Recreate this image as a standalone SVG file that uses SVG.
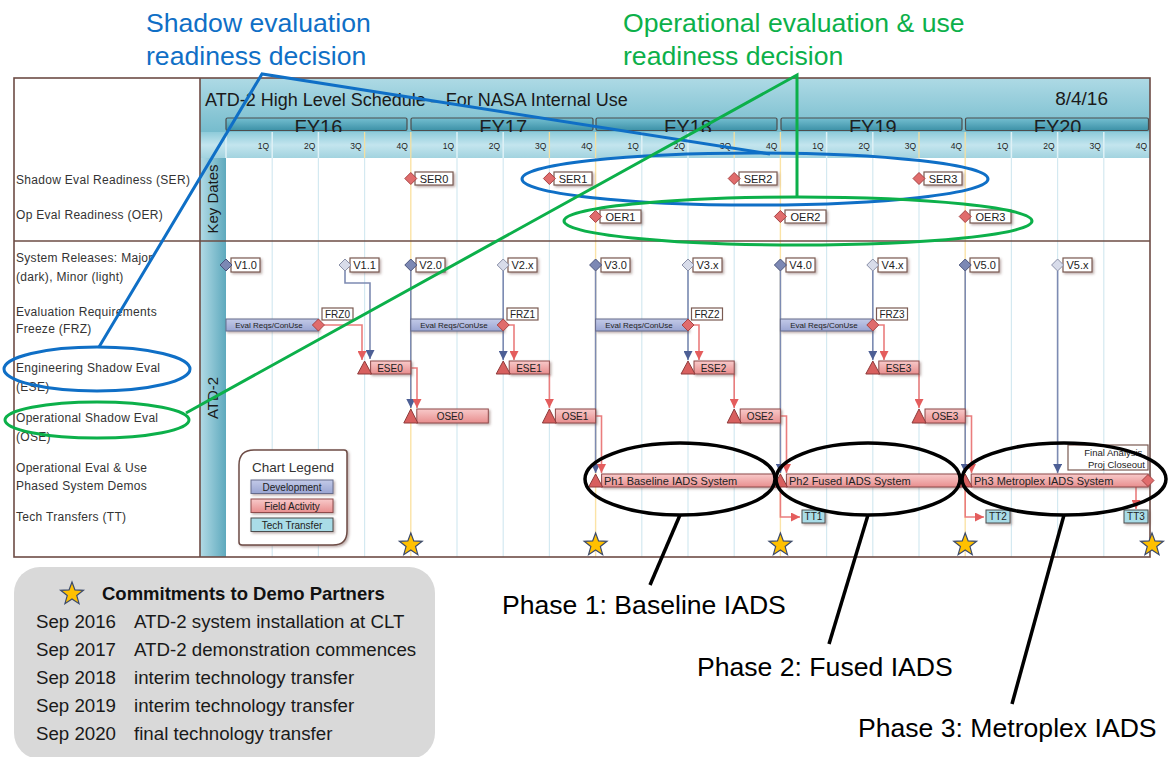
<svg xmlns="http://www.w3.org/2000/svg" width="1168" height="757" viewBox="0 0 1168 757">
<style>
text{font-family:"Liberation Sans",Arial,sans-serif}
.lbl{font-size:12px;fill:#333;letter-spacing:0.3px}
.ql{font-size:8.5px;fill:#222;text-anchor:end}
.fy{font-size:20px;fill:#1e1e1e;text-anchor:middle}
.box{fill:#fff;stroke:#7a5a52;stroke-width:1.2}
.bt{font-size:11px;fill:#222;text-anchor:middle}
.st{font-size:10px;fill:#222;text-anchor:middle}
.er{font-size:8px;fill:#222;text-anchor:middle}
.task{fill:url(#gPink);stroke:#8e4b4b;stroke-width:1}
.tri{fill:#d8605f;stroke:#8e3b3b;stroke-width:1}
.kd{fill:#e06c6c;stroke:#a84444;stroke-width:1}
.vmaj{fill:#7c88b4;stroke:#4b557d;stroke-width:1}
.vmin{fill:#d8dcea;stroke:#8a90a8;stroke-width:1}
.dev{fill:url(#gDev);stroke:#666c8c;stroke-width:1}
.tt{fill:#a9dce7;stroke:#4d4d4d;stroke-width:1}
.cb{fill:none;stroke:#7d8bb2;stroke-width:1.6}
.cp{fill:none;stroke:#ea7d7d;stroke-width:1.6}
.gq{stroke:#d4e9f1;stroke-width:1.2}
.gy{stroke:#fbe3a6;stroke-width:1.4}
.fr{fill:none;stroke:#6d4c45;stroke-width:1.6}
.star{fill:#ffc000;stroke:#3b4a6b;stroke-width:1.2}
.ann{font-size:26.6px}
.blu{fill:none;stroke:#0f6fc6;stroke-width:3}
.grn{fill:none;stroke:#0cb04a;stroke-width:3}
.blk{fill:none;stroke:#000;stroke-width:3.5}
.cm{font-size:18.7px;fill:#1a1a1a}
</style>
<defs>
<linearGradient id="gHead" x1="0" y1="0" x2="0" y2="1">
<stop offset="0" stop-color="#aedae5"/><stop offset="1" stop-color="#76bccd"/>
</linearGradient>
<linearGradient id="gQ" x1="0" y1="0" x2="0" y2="1">
<stop offset="0" stop-color="#8ecbda"/><stop offset="0.5" stop-color="#c3e5ee"/><stop offset="1" stop-color="#a2d3df"/>
</linearGradient>
<linearGradient id="gFY" x1="0" y1="0" x2="0" y2="1">
<stop offset="0" stop-color="#74bfd1"/><stop offset="1" stop-color="#3d91a7"/>
</linearGradient>
<linearGradient id="gBand" x1="0" y1="0" x2="1" y2="0">
<stop offset="0" stop-color="#b2dbe6"/><stop offset="1" stop-color="#5ea9bd"/>
</linearGradient>
<linearGradient id="gPink" x1="0" y1="0" x2="0" y2="1">
<stop offset="0" stop-color="#f8caca"/><stop offset="1" stop-color="#e88e8e"/>
</linearGradient>
<linearGradient id="gDev" x1="0" y1="0" x2="0" y2="1">
<stop offset="0" stop-color="#c3cae8"/><stop offset="1" stop-color="#9aa5d2"/>
</linearGradient>
<filter id="sh" x="-10%" y="-20%" width="130%" height="160%">
<feDropShadow dx="1.5" dy="1.5" stdDeviation="0.8" flood-color="#6d4c45" flood-opacity="0.45"/>
</filter>
<marker id="ab" viewBox="0 0 10 10" refX="10" refY="5" markerWidth="9" markerHeight="9" markerUnits="userSpaceOnUse" orient="auto">
<path d="M0,0 L10,5 L0,10 Z" fill="#4d5f95"/>
</marker>
<marker id="ap" viewBox="0 0 10 10" refX="10" refY="5" markerWidth="9" markerHeight="9" markerUnits="userSpaceOnUse" orient="auto">
<path d="M0,0 L10,5 L0,10 Z" fill="#e45d5d"/>
</marker>
<path id="starp" d="M0,-12 L2.94,-4.05 L11.41,-3.71 L4.76,1.55 L7.05,9.71 L0,5 L-7.05,9.71 L-4.76,1.55 L-11.41,-3.71 L-2.94,-4.05 Z"/>
</defs>

<rect width="1168" height="757" fill="#fff"/>

<g id="header">
<rect x="200" y="78" width="950" height="54" fill="url(#gHead)"/>
<text x="205" y="106" font-size="18" fill="#1a1a1a">ATD-2 High Level Schedule – For NASA Internal Use</text>
<text x="1108" y="105" font-size="19" fill="#1a1a1a" text-anchor="end">8/4/16</text>
<g stroke="#4d4d4d" stroke-width="1.2" fill="url(#gFY)">
<rect x="226" y="118" width="181" height="12.5" rx="1.5"/>
<rect x="411" y="118" width="182" height="12.5" rx="1.5"/>
<rect x="596" y="118" width="181" height="12.5" rx="1.5"/>
<rect x="781" y="118" width="181" height="12.5" rx="1.5"/>
<rect x="965.5" y="118" width="183" height="12.5" rx="1.5"/>
</g>
<text class="fy" x="318.4" y="133.5">FY16</text>
<text class="fy" x="503.2" y="133.5">FY17</text>
<text class="fy" x="688" y="133.5">FY18</text>
<text class="fy" x="872.8" y="133.5">FY19</text>
<text class="fy" x="1057.6" y="133.5">FY20</text>
<rect x="200" y="132" width="950" height="26" fill="url(#gQ)"/>
<g stroke="#def1f6" stroke-width="1.5">
<line x1="226" y1="132" x2="226" y2="158"/>
<line x1="272.2" y1="132" x2="272.2" y2="158"/><line x1="318.4" y1="132" x2="318.4" y2="158"/><line x1="457" y1="132" x2="457" y2="158"/><line x1="503.2" y1="132" x2="503.2" y2="158"/><line x1="641.8" y1="132" x2="641.8" y2="158"/><line x1="688" y1="132" x2="688" y2="158"/><line x1="826.6" y1="132" x2="826.6" y2="158"/><line x1="872.8" y1="132" x2="872.8" y2="158"/><line x1="1011.4" y1="132" x2="1011.4" y2="158"/><line x1="1057.6" y1="132" x2="1057.6" y2="158"/><line x1="1103.8" y1="132" x2="1103.8" y2="158"/>
</g>
<g stroke="#f3dfa0" stroke-width="1.3">
<line x1="364.6" y1="132" x2="364.6" y2="158"/><line x1="410.8" y1="132" x2="410.8" y2="158"/><line x1="549.4" y1="132" x2="549.4" y2="158"/><line x1="595.6" y1="132" x2="595.6" y2="158"/><line x1="734.2" y1="132" x2="734.2" y2="158"/><line x1="780.4" y1="132" x2="780.4" y2="158"/><line x1="919" y1="132" x2="919" y2="158"/><line x1="965.2" y1="132" x2="965.2" y2="158"/>
</g>
<g>
<text class="ql" x="269.2" y="149">1Q</text><text class="ql" x="315.4" y="149">2Q</text><text class="ql" x="361.6" y="149">3Q</text><text class="ql" x="407.8" y="149">4Q</text>
<text class="ql" x="454" y="149">1Q</text><text class="ql" x="500.2" y="149">2Q</text><text class="ql" x="546.4" y="149">3Q</text><text class="ql" x="592.6" y="149">4Q</text>
<text class="ql" x="638.8" y="149">1Q</text><text class="ql" x="685" y="149">2Q</text><text class="ql" x="731.2" y="149">3Q</text><text class="ql" x="777.4" y="149">4Q</text>
<text class="ql" x="823.6" y="149">1Q</text><text class="ql" x="869.8" y="149">2Q</text><text class="ql" x="916" y="149">3Q</text><text class="ql" x="962.2" y="149">4Q</text>
<text class="ql" x="1008.4" y="149">1Q</text><text class="ql" x="1054.6" y="149">2Q</text><text class="ql" x="1100.8" y="149">3Q</text><text class="ql" x="1147" y="149">4Q</text>
</g>
</g>

<g id="grid">
<line class="gq" x1="272.2" y1="158" x2="272.2" y2="557"/><line class="gq" x1="318.4" y1="158" x2="318.4" y2="557"/><line class="gq" x1="364.6" y1="158" x2="364.6" y2="557"/>
<line class="gq" x1="457" y1="158" x2="457" y2="557"/><line class="gq" x1="503.2" y1="158" x2="503.2" y2="557"/><line class="gq" x1="549.4" y1="158" x2="549.4" y2="557"/>
<line class="gq" x1="641.8" y1="158" x2="641.8" y2="557"/><line class="gq" x1="688" y1="158" x2="688" y2="557"/><line class="gq" x1="734.2" y1="158" x2="734.2" y2="557"/>
<line class="gq" x1="826.6" y1="158" x2="826.6" y2="557"/><line class="gq" x1="872.8" y1="158" x2="872.8" y2="557"/><line class="gq" x1="919" y1="158" x2="919" y2="557"/>
<line class="gq" x1="1011.4" y1="158" x2="1011.4" y2="557"/><line class="gq" x1="1057.6" y1="158" x2="1057.6" y2="557"/><line class="gq" x1="1103.8" y1="158" x2="1103.8" y2="557"/>
<line class="gy" x1="410.8" y1="158" x2="410.8" y2="557"/><line class="gy" x1="595.6" y1="158" x2="595.6" y2="557"/><line class="gy" x1="780.4" y1="158" x2="780.4" y2="557"/><line class="gy" x1="965.2" y1="158" x2="965.2" y2="557"/>
</g>

<g id="bands">
<rect x="200" y="158" width="26" height="399" fill="url(#gBand)"/>
<text transform="translate(218,199) rotate(-90)" font-size="15" fill="#1a1a1a" text-anchor="middle">Key Dates</text>
<text transform="translate(218,398) rotate(-90)" font-size="15" fill="#1a1a1a" text-anchor="middle">ATD-2</text>
</g>

<g id="frame">
<rect class="fr" x="14" y="78" width="1136" height="479"/>
<line class="fr" x1="200" y1="78" x2="200" y2="557"/>
<line class="fr" x1="14" y1="241" x2="1150" y2="241"/>
</g>

<g id="row-labels">
<text class="lbl" x="16" y="184">Shadow Eval Readiness (SER)</text>
<text class="lbl" x="16" y="219">Op Eval Readiness (OER)</text>
<text class="lbl" x="16" y="262">System Releases: Major</text>
<text class="lbl" x="16" y="281">(dark), Minor (light)</text>
<text class="lbl" x="16" y="316">Evaluation Requirements</text>
<text class="lbl" x="16" y="333">Freeze (FRZ)</text>
<text class="lbl" x="16" y="372">Engineering Shadow Eval</text>
<text class="lbl" x="16" y="391">(ESE)</text>
<text class="lbl" x="16" y="422">Operational Shadow Eval</text>
<text class="lbl" x="16" y="441">(OSE)</text>
<text class="lbl" x="16" y="472">Operational Eval &amp; Use</text>
<text class="lbl" x="16" y="490">Phased System Demos</text>
<text class="lbl" x="16" y="521">Tech Transfers (TT)</text>
</g>

<g id="connectors">
<path class="cb" d="M345,271 V283 H370 V359" marker-end="url(#ab)"/>
<path class="cb" d="M410.8,271 V408" marker-end="url(#ab)"/>
<path class="cb" d="M503.2,271 V360" marker-end="url(#ab)"/>
<path class="cb" d="M595.6,271 V473" marker-end="url(#ab)"/>
<path class="cb" d="M688,271 V360" marker-end="url(#ab)"/>
<path class="cb" d="M780.4,271 V473" marker-end="url(#ab)"/>
<path class="cb" d="M872.8,271 V360" marker-end="url(#ab)"/>
<path class="cb" d="M965.2,271 V473" marker-end="url(#ab)"/>
<path class="cb" d="M1057.6,271 V473" marker-end="url(#ab)"/>
<path class="cp" d="M324,325 H362 V360" marker-end="url(#ap)"/>
<path class="cp" d="M509,325 H514 V360" marker-end="url(#ap)"/>
<path class="cp" d="M694,325 H699 V360" marker-end="url(#ap)"/>
<path class="cp" d="M879,325 H884 V360" marker-end="url(#ap)"/>
<path class="cp" d="M410,368 H417 V408" marker-end="url(#ap)"/>
<path class="cp" d="M549.4,374 V408" marker-end="url(#ap)"/>
<path class="cp" d="M734.2,374 V408" marker-end="url(#ap)"/>
<path class="cp" d="M919,374 V408" marker-end="url(#ap)"/>
<path class="cp" d="M595.6,416 H601.5 V473" marker-end="url(#ap)"/>
<path class="cp" d="M780.4,416 H786.5 V473" marker-end="url(#ap)"/>
<path class="cp" d="M965.2,416 H971.5 V473" marker-end="url(#ap)"/>
<path class="cp" d="M780.4,487 V517 H800" marker-end="url(#ap)"/>
<path class="cp" d="M965.2,487 V517 H984" marker-end="url(#ap)"/>
<path class="cp" d="M1136,487 V509" marker-end="url(#ap)"/>
</g>

<g id="SER0"><rect class="box" x="415" y="172" width="38" height="13" filter="url(#sh)"/><path class="kd" d="M410.8,172.5 L416.8,178.5 L410.8,184.5 L404.8,178.5 Z"/><text class="bt" x="434" y="182.5">SER0</text></g>
<g id="SER1"><rect class="box" x="554" y="172" width="38" height="13" filter="url(#sh)"/><path class="kd" d="M549.4,172.5 L555.4,178.5 L549.4,184.5 L543.4,178.5 Z"/><text class="bt" x="573" y="182.5">SER1</text></g>
<g id="SER2"><rect class="box" x="739" y="172" width="38" height="13" filter="url(#sh)"/><path class="kd" d="M734.2,172.5 L740.2,178.5 L734.2,184.5 L728.2,178.5 Z"/><text class="bt" x="758" y="182.5">SER2</text></g>
<g id="SER3"><rect class="box" x="924" y="172" width="38" height="13" filter="url(#sh)"/><path class="kd" d="M919,172.5 L925,178.5 L919,184.5 L913,178.5 Z"/><text class="bt" x="943" y="182.5">SER3</text></g>
<g id="OER1"><rect class="box" x="600" y="210" width="41" height="13" filter="url(#sh)"/><path class="kd" d="M595.6,210.5 L601.6,216.5 L595.6,222.5 L589.6,216.5 Z"/><text class="bt" x="620.5" y="220.5">OER1</text></g>
<g id="OER2"><rect class="box" x="785" y="210" width="41" height="13" filter="url(#sh)"/><path class="kd" d="M780.4,210.5 L786.4,216.5 L780.4,222.5 L774.4,216.5 Z"/><text class="bt" x="805.5" y="220.5">OER2</text></g>
<g id="OER3"><rect class="box" x="970" y="210" width="41" height="13" filter="url(#sh)"/><path class="kd" d="M965.2,210.5 L971.2,216.5 L965.2,222.5 L959.2,216.5 Z"/><text class="bt" x="990.5" y="220.5">OER3</text></g>

<g id="V1.0"><rect class="box" x="231" y="258" width="29" height="14" filter="url(#sh)"/><path class="vmaj" d="M226,259 L232,265 L226,271 L220,265 Z"/><text class="bt" x="245.5" y="269">V1.0</text></g>
<g id="V1.1"><rect class="box" x="350" y="258" width="29" height="14" filter="url(#sh)"/><path class="vmin" d="M345,259 L351,265 L345,271 L339,265 Z"/><text class="bt" x="364.5" y="269">V1.1</text></g>
<g id="V2.0"><rect class="box" x="416" y="258" width="29" height="14" filter="url(#sh)"/><path class="vmaj" d="M410.8,259 L416.8,265 L410.8,271 L404.8,265 Z"/><text class="bt" x="430.5" y="269">V2.0</text></g>
<g id="V2.x"><rect class="box" x="508" y="258" width="29" height="14" filter="url(#sh)"/><path class="vmin" d="M503.2,259 L509.2,265 L503.2,271 L497.2,265 Z"/><text class="bt" x="522.5" y="269">V2.x</text></g>
<g id="V3.0"><rect class="box" x="601" y="258" width="29" height="14" filter="url(#sh)"/><path class="vmaj" d="M595.6,259 L601.6,265 L595.6,271 L589.6,265 Z"/><text class="bt" x="615.5" y="269">V3.0</text></g>
<g id="V3.x"><rect class="box" x="693" y="258" width="29" height="14" filter="url(#sh)"/><path class="vmin" d="M688,259 L694,265 L688,271 L682,265 Z"/><text class="bt" x="707.5" y="269">V3.x</text></g>
<g id="V4.0"><rect class="box" x="786" y="258" width="29" height="14" filter="url(#sh)"/><path class="vmaj" d="M780.4,259 L786.4,265 L780.4,271 L774.4,265 Z"/><text class="bt" x="800.5" y="269">V4.0</text></g>
<g id="V4.x"><rect class="box" x="878" y="258" width="29" height="14" filter="url(#sh)"/><path class="vmin" d="M872.8,259 L878.8,265 L872.8,271 L866.8,265 Z"/><text class="bt" x="892.5" y="269">V4.x</text></g>
<g id="V5.0"><rect class="box" x="970" y="258" width="29" height="14" filter="url(#sh)"/><path class="vmaj" d="M965.2,259 L971.2,265 L965.2,271 L959.2,265 Z"/><text class="bt" x="984.5" y="269">V5.0</text></g>
<g id="V5.x"><rect class="box" x="1063" y="258" width="29" height="14" filter="url(#sh)"/><path class="vmin" d="M1057.6,259 L1063.6,265 L1057.6,271 L1051.6,265 Z"/><text class="bt" x="1077.5" y="269">V5.x</text></g>

<g id="FRZ0"><rect class="dev" x="226" y="319" width="92.4" height="12" filter="url(#sh)"/><text class="er" x="269" y="328">Eval Reqs/ConUse</text><path class="kd" d="M318.4,319 L324.4,325 L318.4,331 L312.4,325 Z"/><rect class="box" x="322" y="308" width="31" height="12"/><text class="st" x="337.5" y="318">FRZ0</text></g>
<g id="FRZ1"><rect class="dev" x="410.8" y="319" width="92.4" height="12" filter="url(#sh)"/><text class="er" x="454" y="328">Eval Reqs/ConUse</text><path class="kd" d="M503.2,319 L509.2,325 L503.2,331 L497.2,325 Z"/><rect class="box" x="507" y="308" width="31" height="12"/><text class="st" x="522.5" y="318">FRZ1</text></g>
<g id="FRZ2"><rect class="dev" x="595.6" y="319" width="92.4" height="12" filter="url(#sh)"/><text class="er" x="639" y="328">Eval Reqs/ConUse</text><path class="kd" d="M688,319 L694,325 L688,331 L682,325 Z"/><rect class="box" x="691.5" y="308" width="31" height="12"/><text class="st" x="707" y="318">FRZ2</text></g>
<g id="FRZ3"><rect class="dev" x="780.4" y="319" width="92.4" height="12" filter="url(#sh)"/><text class="er" x="824" y="328">Eval Reqs/ConUse</text><path class="kd" d="M872.8,319 L878.8,325 L872.8,331 L866.8,325 Z"/><rect class="box" x="876.5" y="308" width="31" height="12"/><text class="st" x="892" y="318">FRZ3</text></g>

<g id="ESE0"><rect class="task" x="370.6" y="361" width="40.2" height="13" filter="url(#sh)"/><path class="tri" d="M364.6,361 L371.6,374 L357.6,374 Z"/><text class="st" x="390" y="371.5">ESE0</text></g>
<g id="ESE1"><rect class="task" x="509.2" y="361" width="40.2" height="13" filter="url(#sh)"/><path class="tri" d="M503.2,361 L510.2,374 L496.2,374 Z"/><text class="st" x="529" y="371.5">ESE1</text></g>
<g id="ESE2"><rect class="task" x="694" y="361" width="40.2" height="13" filter="url(#sh)"/><path class="tri" d="M688,361 L695,374 L681,374 Z"/><text class="st" x="713.5" y="371.5">ESE2</text></g>
<g id="ESE3"><rect class="task" x="878.8" y="361" width="40.2" height="13" filter="url(#sh)"/><path class="tri" d="M872.8,361 L879.8,374 L865.8,374 Z"/><text class="st" x="898.5" y="371.5">ESE3</text></g>

<g id="OSE0"><rect class="task" x="416.8" y="409" width="71.5" height="14" filter="url(#sh)"/><path class="tri" d="M410.8,409 L417.8,423 L403.8,423 Z"/><text class="st" x="450" y="420" font-size="10.5">OSE0</text></g>
<g id="OSE1"><rect class="task" x="555.4" y="409" width="40.2" height="14" filter="url(#sh)"/><path class="tri" d="M549.4,409 L556.4,423 L542.4,423 Z"/><text class="st" x="575" y="420" font-size="10.5">OSE1</text></g>
<g id="OSE2"><rect class="task" x="740.2" y="409" width="40.2" height="14" filter="url(#sh)"/><path class="tri" d="M734.2,409 L741.2,423 L727.2,423 Z"/><text class="st" x="760" y="420" font-size="10.5">OSE2</text></g>
<g id="OSE3"><rect class="task" x="925" y="409" width="40.2" height="14" filter="url(#sh)"/><path class="tri" d="M919,409 L926,423 L912,423 Z"/><text class="st" x="945" y="420" font-size="10.5">OSE3</text></g>

<g id="Ph1"><rect class="task" x="601.6" y="474" width="174" height="13" filter="url(#sh)"/><path class="tri" d="M595.6,474 L602.6,487 L588.6,487 Z"/><text x="604" y="484.5" font-size="11" fill="#222">Ph1 Baseline IADS System</text></g>
<g id="Ph2"><rect class="task" x="786.4" y="474" width="174" height="13" filter="url(#sh)"/><path class="tri" d="M780.4,474 L787.4,487 L773.4,487 Z"/><text x="789" y="484.5" font-size="11" fill="#222">Ph2 Fused IADS System</text></g>
<g id="Ph3"><rect class="task" x="971.2" y="474" width="177" height="13" filter="url(#sh)"/><path class="tri" d="M965.2,474 L972.2,487 L958.2,487 Z"/><text x="974" y="484.5" font-size="11" fill="#222">Ph3 Metroplex IADS System</text><path class="kd" d="M1148,474.5 L1154,480.5 L1148,486.5 L1142,480.5 Z"/></g>
<g id="final"><rect class="box" x="1068" y="445" width="80" height="25"/><text x="1145" y="456" font-size="9.5" fill="#222" text-anchor="end">Final Analysis,</text><text x="1145" y="467.5" font-size="9.5" fill="#222" text-anchor="end">Proj Closeout</text></g>

<g id="TT1"><rect class="tt" x="802" y="510" width="23" height="13" filter="url(#sh)"/><text class="st" x="813.5" y="520">TT1</text></g>
<g id="TT2"><rect class="tt" x="986" y="510" width="24" height="13" filter="url(#sh)"/><text class="st" x="998" y="520">TT2</text></g>
<g id="TT3"><rect class="tt" x="1124" y="510" width="24" height="13" filter="url(#sh)"/><text class="st" x="1136" y="520">TT3</text></g>

<g id="stars">
<use href="#starp" class="star" x="410.8" y="545"/>
<use href="#starp" class="star" x="595.6" y="545"/>
<use href="#starp" class="star" x="780.4" y="545"/>
<use href="#starp" class="star" x="965.2" y="545"/>
<use href="#starp" class="star" x="1152" y="545"/>
</g>

<g id="legend">
<path d="M254,450 H344 Q347,450 347,453 V531 Q347,545 333,545 H242 Q239,545 239,542 V465 Q239,450 254,450 Z" fill="#fff" stroke="#6d4c45" stroke-width="1.5" filter="url(#sh)"/>
<text x="293" y="472" font-size="13.5" fill="#333" text-anchor="middle">Chart Legend</text>
<rect class="dev" x="251" y="480" width="82" height="13.5" filter="url(#sh)"/><text class="st" x="292" y="490.5" font-size="10.5">Development</text>
<rect class="task" x="251" y="499" width="82" height="13.5" filter="url(#sh)"/><text class="st" x="292" y="509.5" font-size="10.5">Field Activity</text>
<rect class="tt" x="251" y="518" width="82" height="13.5" filter="url(#sh)"/><text class="st" x="292" y="528.5" font-size="10.5">Tech Transfer</text>
</g>

<g id="annotations">
<text class="ann" x="146" y="32" fill="#0f6fc6">Shadow evaluation</text>
<text class="ann" x="146" y="65" fill="#0f6fc6">readiness decision</text>
<text class="ann" x="623" y="32" fill="#0cb04a">Operational evaluation &amp; use</text>
<text class="ann" x="623" y="65" fill="#0cb04a">readiness decision</text>
<path class="blu" d="M99,347 L262,74 L770,154"/>
<ellipse class="blu" cx="97" cy="369" rx="93" ry="22"/>
<ellipse class="blu" cx="755" cy="179" rx="233" ry="26"/>
<path class="grn" d="M797,196 V75 L186,413"/>
<ellipse class="grn" cx="97" cy="420" rx="92" ry="18"/>
<ellipse class="grn" cx="798" cy="221" rx="234" ry="24"/>
<ellipse class="blk" cx="680" cy="479" rx="95" ry="36"/>
<ellipse class="blk" cx="868" cy="479" rx="92" ry="36"/>
<ellipse class="blk" cx="1064" cy="479" rx="102" ry="36"/>
<path class="blk" d="M680,515 L650,585"/>
<path class="blk" d="M868,515 L829,644"/>
<path class="blk" d="M1064,515 L1012,704"/>
<text class="ann" x="502" y="614" fill="#000">Phase 1: Baseline IADS</text>
<text class="ann" x="697" y="676" fill="#000">Phase 2: Fused IADS</text>
<text class="ann" x="858" y="737" fill="#000">Phase 3: Metroplex IADS</text>
</g>

<g id="commitments">
<rect x="14" y="567" width="421" height="192" rx="26" fill="#d9d9d9"/>
<use href="#starp" class="star" x="72" y="594"/>
<text x="102" y="600" font-size="18.5" font-weight="bold" fill="#111">Commitments to Demo Partners</text>
<text class="cm" x="36" y="628">Sep 2016</text><text class="cm" x="134" y="628">ATD-2 system installation at CLT</text>
<text class="cm" x="36" y="656">Sep 2017</text><text class="cm" x="134" y="656">ATD-2 demonstration commences</text>
<text class="cm" x="36" y="684">Sep 2018</text><text class="cm" x="134" y="684">interim technology transfer</text>
<text class="cm" x="36" y="712">Sep 2019</text><text class="cm" x="134" y="712">interim technology transfer</text>
<text class="cm" x="36" y="740">Sep 2020</text><text class="cm" x="134" y="740">final technology transfer</text>
</g>
</svg>
